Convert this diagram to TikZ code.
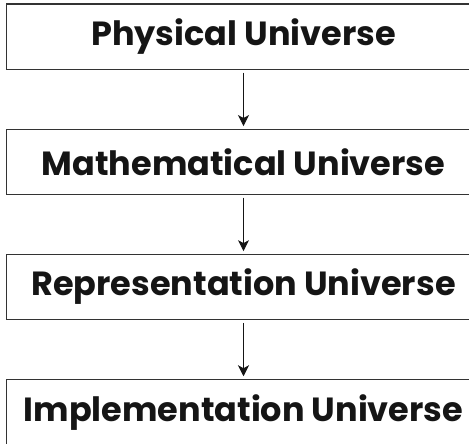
\documentclass[tikz,border=0pt]{standalone}
\usepackage{fontspec}
\setmainfont{Poppins}
\usetikzlibrary{arrows.meta,positioning}
\definecolor{ink}{HTML}{333333}
\definecolor{txt}{HTML}{151515}

\begin{document}
\begin{tikzpicture}[x=1pt,y=1pt,
 box/.style={draw=ink,line width=1.1pt,minimum width=474pt,minimum height=65.5pt,
 inner sep=0pt,text=txt,font=\fontsize{33.5}{36}\selectfont\bfseries},
 arr/.style={-{Stealth[length=11pt,width=11pt,inset=3pt]},line width=0.9pt,draw=txt,
 shorten <=2.5pt,shorten >=2.5pt},node distance=58.5pt]
 \useasboundingbox (0,0) rectangle (469,-444);
 \node[box] (phys) at (243.5,-36.75) {Physical Universe};
 \node[box,below=of phys] (math) {Mathematical Universe};
 \node[box,below=of math] (repr) {Representation Universe};
 \node[box,below=of repr] (impl) {Implementation Universe};
 \draw[arr] (phys) -- (math);
 \draw[arr] (math) -- (repr);
 \draw[arr] (repr) -- (impl);
\end{tikzpicture}
\end{document}
